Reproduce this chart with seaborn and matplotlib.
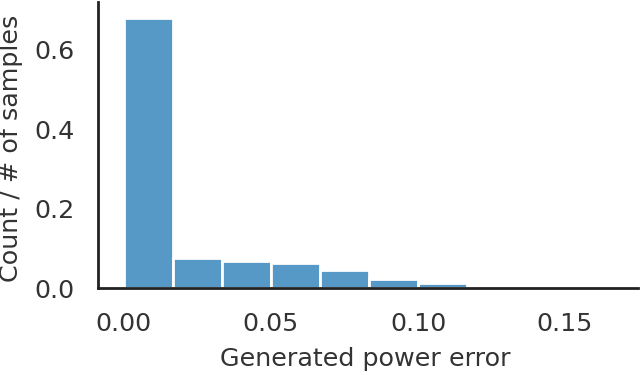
import numpy as np
import pandas as pd
import matplotlib
matplotlib.use("Agg")
import matplotlib.pyplot as plt
import seaborn as sns

# histogram bins (left edges) and share of samples per bin
bin_width = 0.01665
bin_left = [i * bin_width for i in range(7)]
share = [0.680, 0.0775, 0.0700, 0.0650, 0.0475, 0.0250, 0.0130]

df = pd.DataFrame({"error": [b + bin_width / 2 for b in bin_left],
                   "share": share})
edges = bin_left + [bin_left[-1] + bin_width]

sns.set_theme(style="white")
plt.rcParams["font.family"] = ["DejaVu Sans"]

fig = plt.figure(figsize=(6.4, 3.75), dpi=100)
ax = fig.add_axes([0.153, 0.2307, 0.844, 0.7648])
sns.histplot(data=df, x="error", weights="share", bins=edges,
             color="#1f77b4", alpha=0.75, edgecolor="white", linewidth=2,
             ax=ax)
sns.despine(ax=ax)
for s in ["left", "bottom"]:
    ax.spines[s].set_linewidth(2)
    ax.spines[s].set_color("#222222")

ax.set_xlim(-0.00884, 0.17483)
ax.set_ylim(0, 0.72)
ax.set_xticks([0.0, 0.05, 0.10, 0.15])
ax.set_xticklabels(["0.00", "0.05", "0.10", "0.15"])
ax.set_yticks([0.0, 0.2, 0.4, 0.6])
ax.tick_params(labelsize=18.3, colors="#333333", length=0, pad=17)
ax.set_xlabel("Generated power error", fontsize=18.3, color="#333333")
ax.set_ylabel("Count / # of samples", fontsize=18.3, color="#333333")
ax.xaxis.set_label_coords(0.495, -0.203)
ax.yaxis.set_label_coords(-0.139, 0.488)

fig.savefig("out.png", dpi=100)
